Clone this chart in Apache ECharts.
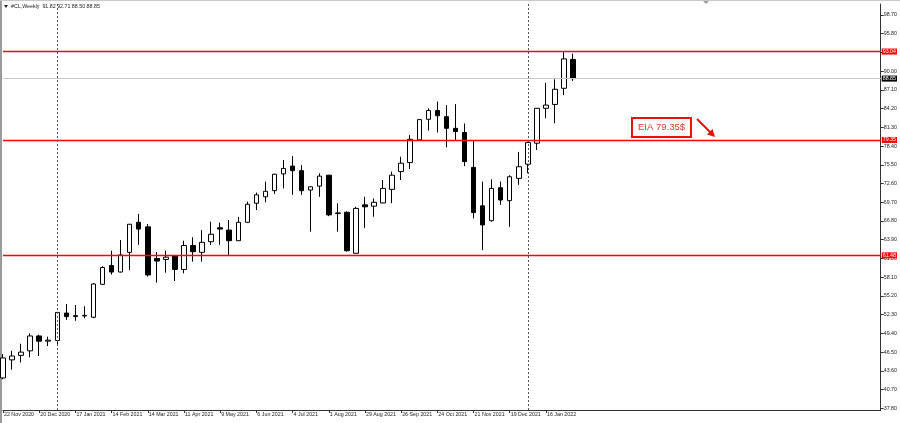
<!DOCTYPE html>
<html><head><meta charset="utf-8">
<script src="https://cdn.jsdelivr.net/npm/echarts@6/dist/echarts.min.js"></script>
<style>html,body{margin:0;padding:0;background:#fff}#c{width:900px;height:423px}</style>
</head><body><div id="c"></div>
<script>
const categories = [
 '22 Nov 2020','29 Nov 2020','6 Dec 2020','13 Dec 2020','20 Dec 2020','27 Dec 2020',
 '3 Jan 2021','10 Jan 2021','17 Jan 2021','24 Jan 2021','31 Jan 2021','7 Feb 2021','14 Feb 2021','21 Feb 2021','28 Feb 2021',
 '7 Mar 2021','14 Mar 2021','21 Mar 2021','28 Mar 2021','4 Apr 2021','11 Apr 2021','18 Apr 2021','25 Apr 2021',
 '2 May 2021','9 May 2021','16 May 2021','23 May 2021','30 May 2021','6 Jun 2021','13 Jun 2021','20 Jun 2021','27 Jun 2021',
 '4 Jul 2021','11 Jul 2021','18 Jul 2021','25 Jul 2021','1 Aug 2021','8 Aug 2021','15 Aug 2021','22 Aug 2021','29 Aug 2021',
 '5 Sep 2021','12 Sep 2021','19 Sep 2021','26 Sep 2021','3 Oct 2021','10 Oct 2021','17 Oct 2021','24 Oct 2021','31 Oct 2021',
 '7 Nov 2021','14 Nov 2021','21 Nov 2021','28 Nov 2021','5 Dec 2021','12 Dec 2021','19 Dec 2021','26 Dec 2021',
 '2 Jan 2022','9 Jan 2022','16 Jan 2022','23 Jan 2022','30 Jan 2022','6 Feb 2022'
];
const opens  = [42.5,45.3,46.0,46.7,49.0,48.2,48.3,52.55,52.0,52.1,51.9,57.0,59.9,58.9,61.95,66.6,65.9,61.0,60.85,61.45,59.3,63.0,61.95,63.6,65.75,65.4,63.75,66.6,69.55,70.55,71.5,74.1,75.3,74.6,71.6,72.2,73.9,67.95,68.15,61.8,69.3,69.1,69.6,71.7,74.45,75.85,79.35,82.55,83.9,82.95,81.15,80.5,75.1,69.15,66.85,71.95,69.95,73.4,75.6,78.85,84.25,84.85,87.35,91.82];
const highs  = [46.2,46.7,47.8,49.4,49.2,48.9,52.7,53.95,53.8,53.6,57.2,59.8,62.2,63.85,66.35,67.9,66.35,62.0,62.2,61.5,63.75,64.3,65.4,66.7,66.55,66.95,67.45,69.8,71.2,72.9,74.1,76.25,76.85,75.45,72.15,74.2,73.95,69.55,68.3,69.0,70.55,70.3,73.15,74.45,76.75,80.1,82.6,84.25,85.3,84.75,84.9,81.9,79.35,72.9,73.25,72.9,73.9,77.5,79.1,84.3,88.2,88.75,93.1,92.71];
const lows   = [42.3,43.8,44.9,45.7,45.9,47.45,47.6,51.5,51.35,51.75,51.75,56.9,58.5,58.85,59.2,63.1,58.2,57.25,58.8,57.5,58.7,60.5,60.5,63.1,63.1,61.55,63.7,66.5,68.5,69.7,71.0,71.85,70.85,70.85,65.15,70.55,67.55,65.15,62.05,61.75,65.7,67.45,69.55,69.55,73.15,74.85,79.3,80.8,80.5,78.2,79.35,75.3,67.2,62.3,66.7,69.3,65.9,72.4,74.2,77.8,82.7,81.95,86.3,88.50];
const closes = [45.6,45.9,46.5,49.0,48.2,48.35,52.65,52.0,52.15,52.2,57.05,59.6,58.9,61.55,66.3,65.55,58.45,60.6,61.2,59.3,63.0,62.05,63.5,64.75,65.55,63.75,66.6,69.4,70.85,71.4,74.05,74.95,74.6,71.5,72.1,73.75,67.75,68.05,62.2,68.75,69.0,69.7,71.85,73.9,75.75,79.45,82.5,83.9,83.1,81.15,80.65,76.0,68.1,66.2,71.85,70.05,73.65,75.2,78.95,84.25,84.75,87.2,91.9,88.85];
const yTickLabels = [37.80,40.70,43.60,46.50,49.40,52.30,55.20,58.10,61.00,63.90,66.80,69.70,72.60,75.50,78.40,81.30,84.20,87.10,90.00,92.90,95.80,98.70];
const levelLines = [93.04, 79.35, 61.48];
const lastPrice = 88.85;
const yearStarts = ['3 Jan 2021', '2 Jan 2022'];
const titleText = '#CL,Weekly  91.82 92.71 88.50 88.85';
const noteText = 'EIA 79.35$';

const emptySlots = Array.from({length: 34}, (_, i) => '_' + i);
const axisCats = categories.concat(emptySlots);
const candleData = opens.map((o, i) => [o, closes[i], lows[i], highs[i]]);
const showIdx = (i) => i < categories.length && i % 4 === 0;
const FONT = 'Liberation Sans';

const chart = echarts.init(document.getElementById('c'), null, {renderer: 'canvas'});
const markData = levelLines.map(v => ({
  yAxis: v,
  lineStyle: {color: '#ff0000', width: 1.3, type: 'solid'},
  label: {show: true, position: 'end', distance: 1, formatter: v.toFixed(2), color: '#fff',
    backgroundColor: '#ff0000', fontSize: 5.3, fontFamily: FONT, padding: [1, 1, 0, 1], lineHeight: 5}
}));
markData.push({
  yAxis: lastPrice,
  lineStyle: {color: '#c8c8c8', width: 1, type: 'solid'},
  label: {show: true, position: 'end', distance: 1, formatter: lastPrice.toFixed(2), color: '#fff',
    backgroundColor: '#000', fontSize: 5.3, fontFamily: FONT, padding: [1, 1, 0, 1], lineHeight: 5}
});
yearStarts.forEach(c => markData.push({
  xAxis: c,
  lineStyle: {color: '#555', width: 1, type: [2, 2]},
  label: {show: false}
}));

chart.setOption({
  animation: false,
  backgroundColor: '#fff',
  grid: {left: 3, right: 17, top: 4, bottom: 13},
  xAxis: {
    type: 'category', data: axisCats, boundaryGap: false,
    axisLine: {lineStyle: {color: '#333', width: 1}},
    axisTick: {show: true, length: 3, interval: showIdx, lineStyle: {color: '#333'}},
    axisLabel: {interval: showIdx, align: 'left', margin: 2, fontSize: 5.3, fontFamily: FONT, color: '#222', padding: [0, 0, 0, 1]},
    splitLine: {show: false}
  },
  yAxis: {
    type: 'value', position: 'right', min: 37.54, max: 100.40, scale: true,
    axisLine: {show: true, lineStyle: {color: '#333', width: 1}},
    axisTick: {show: true, length: 3, customValues: yTickLabels, lineStyle: {color: '#333'}},
    axisLabel: {customValues: yTickLabels, formatter: v => v.toFixed(2), margin: 3, fontSize: 5.3, fontFamily: FONT, color: '#222'},
    splitLine: {show: false}
  },
  series: [{
    type: 'candlestick', data: candleData, barWidth: 5,
    itemStyle: {color: '#ffffff', color0: '#000000', borderColor: '#000000', borderColor0: '#000000', borderColorDoji: '#000000', borderWidth: 1},
    markLine: {silent: true, symbol: 'none', animation: false, data: markData}
  }],
  graphic: [
    {type: 'rect', shape: {x: 0, y: 0, width: 2, height: 423}, style: {fill: '#9a9a9a'}, silent: true},
    {type: 'rect', shape: {x: 0, y: 0, width: 900, height: 1}, style: {fill: '#c8c8c8'}, silent: true},
    {type: 'polygon', shape: {points: [[703, 1], [709, 1], [706, 4]]}, style: {fill: '#9a9a9a'}, silent: true},
    {type: 'polygon', shape: {points: [[4, 5], [8, 5], [6, 8]]}, style: {fill: '#222'}, silent: true},
    {type: 'text', x: 11, y: 4, style: {text: titleText, fontSize: 5.3, fontFamily: FONT, fill: '#222'}, silent: true},
    {type: 'rect', shape: {x: 632, y: 118, width: 59, height: 19}, style: {fill: '#fff', stroke: '#e8100a', lineWidth: 2}, silent: true},
    {type: 'text', x: 661.5, y: 127.5, style: {text: noteText, fontSize: 9.5, fontFamily: FONT, fill: '#ee3a2c', align: 'center', verticalAlign: 'middle'}, silent: true},
    {type: 'line', shape: {x1: 697, y1: 119, x2: 711, y2: 133}, style: {stroke: '#e8100a', lineWidth: 2}, silent: true},
    {type: 'polygon', shape: {points: [[715, 137], [707, 134.5], [712.5, 129]]}, style: {fill: '#e8100a'}, silent: true}
  ]
});
</script></body></html>
